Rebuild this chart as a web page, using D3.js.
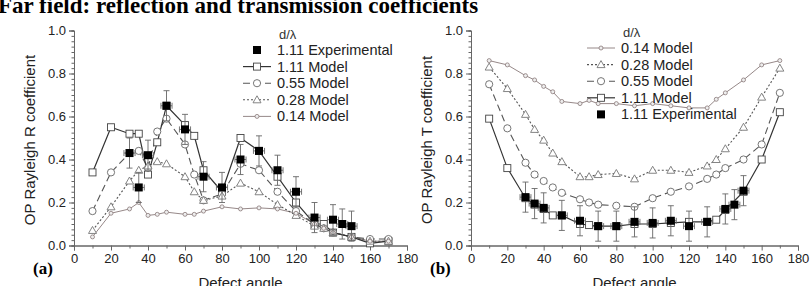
<!DOCTYPE html>
<html>
<head>
<meta charset="utf-8">
<script src="https://cdn.jsdelivr.net/npm/d3@7"></script>
<style>
body { margin: 0; background: #fff; }
svg { display: block; }
</style>
</head>
<body>
<div id="chart"></div>
<script>
// angles of the model curves (degrees)
var modelAngles = [10, 20, 30, 35, 40, 45, 50, 60, 65, 70, 80, 90, 100, 110, 120, 130, 135, 140, 150, 160, 170];
var expAngles = [30, 35, 40, 50, 60, 70, 80, 90, 100, 110, 120, 130, 140, 145, 150];

// (a) reflection
var R111 = [0.34, 0.55, 0.52, 0.52, 0.33, 0.48, 0.65, 0.56, 0.51, 0.35, 0.25, 0.50, 0.44, 0.32, 0.20, 0.10, 0.10, 0.06, 0.04, 0.01, 0.02];
var R055 = [0.16, 0.34, 0.43, 0.44, 0.36, 0.53, 0.59, 0.47, 0.33, 0.21, 0.24, 0.38, 0.35, 0.25, 0.16, 0.10, 0.08, 0.06, 0.04, 0.03, 0.03];
var R028 = [0.07, 0.18, 0.30, 0.35, 0.37, 0.39, 0.38, 0.32, 0.25, 0.21, 0.23, 0.29, 0.25, 0.19, 0.14, 0.09, 0.08, 0.06, 0.04, 0.02, 0.02];
var R014 = [0.04, 0.15, 0.17, 0.20, 0.14, 0.145, 0.155, 0.145, 0.145, 0.16, 0.18, 0.17, 0.175, 0.17, 0.15, 0.10, 0.08, 0.06, 0.04, 0.02, 0.02];
var Rexp = [0.43, 0.27, 0.42, 0.65, 0.54, 0.32, 0.27, 0.40, 0.44, 0.35, 0.25, 0.13, 0.12, 0.10, 0.09];
var RexpErr = [0.07, 0.07, 0.07, 0.07, 0.07, 0.07, 0.07, 0.07, 0.07, 0.07, 0.07, 0.07, 0.07, 0.07, 0.07];

// (b) transmission
var T014 = [0.86, 0.84, 0.79, 0.77, 0.74, 0.715, 0.67, 0.66, 0.675, 0.66, 0.66, 0.65, 0.66, 0.65, 0.64, 0.64, 0.68, 0.71, 0.77, 0.84, 0.86];
var T028 = [0.83, 0.73, 0.61, 0.54, 0.49, 0.43, 0.39, 0.32, 0.32, 0.33, 0.335, 0.31, 0.35, 0.35, 0.34, 0.37, 0.40, 0.45, 0.55, 0.69, 0.825];
var T055 = [0.75, 0.545, 0.385, 0.33, 0.30, 0.27, 0.245, 0.215, 0.20, 0.19, 0.185, 0.18, 0.22, 0.25, 0.275, 0.31, 0.33, 0.36, 0.40, 0.47, 0.71];
var T111 = [0.59, 0.36, 0.22, 0.19, 0.17, 0.14, 0.14, 0.10, 0.095, 0.09, 0.09, 0.10, 0.10, 0.105, 0.11, 0.11, 0.12, 0.165, 0.25, 0.40, 0.62];
var Texp = [0.225, 0.195, 0.175, 0.14, 0.115, 0.09, 0.09, 0.11, 0.105, 0.115, 0.09, 0.11, 0.17, 0.19, 0.255];
var TexpErr = [0.07, 0.07, 0.07, 0.07, 0.07, 0.07, 0.07, 0.07, 0.07, 0.07, 0.07, 0.07, 0.07, 0.07, 0.07];
var angleErr = 3;

var xTicks = [0, 20, 40, 60, 80, 100, 120, 140, 160, 180];
var yTicks = [0.0, 0.2, 0.4, 0.6, 0.8, 1.0];

var width = 811, height = 286;
var font = "'Liberation Sans', Arial, sans-serif";

var svg = d3.select('#chart').append('svg')
	.attr('width', width)
	.attr('height', height);

svg.append('text')
	.attr('x', -2).attr('y', 13)
	.style('font-family', "'Liberation Serif', 'Times New Roman', serif")
	.style('font-weight', 'bold')
	.style('font-size', '23px')
	.text('Far field: reflection and transmission coefficients');

// styles for each series
var styles = {
	m111: {stroke: '#333', dash: null, width: 1.2, marker: 'square', fill: '#fff', mstroke: '#444'},
	m055: {stroke: '#555', dash: '7,4', width: 1.1, marker: 'circle', fill: '#fff', mstroke: '#666'},
	m028: {stroke: '#555', dash: '2,2', width: 1.1, marker: 'triangle', fill: '#fff', mstroke: '#777'},
	m014: {stroke: '#8a7a7a', dash: null, width: 0.9, marker: 'dot', fill: '#eee', mstroke: '#8a7a7a'},
	exp: {marker: 'filled'}
};

function drawMarker(g, kind, x, y, st) {
	if (kind == 'square') {
		g.append('rect').attr('x', x - 3.5).attr('y', y - 3.5).attr('width', 7).attr('height', 7)
			.attr('fill', st.fill).attr('stroke', st.mstroke).attr('stroke-width', 0.9);
	} else if (kind == 'circle') {
		g.append('circle').attr('cx', x).attr('cy', y).attr('r', 3.6)
			.attr('fill', st.fill).attr('stroke', st.mstroke).attr('stroke-width', 0.9);
	} else if (kind == 'triangle') {
		g.append('path').attr('d', 'M' + x + ',' + (y - 4) + 'L' + (x + 4) + ',' + (y + 3) + 'L' + (x - 4) + ',' + (y + 3) + 'Z')
			.attr('fill', st.fill).attr('stroke', st.mstroke).attr('stroke-width', 0.9);
	} else if (kind == 'dot') {
		g.append('circle').attr('cx', x).attr('cy', y).attr('r', 2)
			.attr('fill', st.fill).attr('stroke', st.mstroke).attr('stroke-width', 0.8);
	} else if (kind == 'filled') {
		g.append('rect').attr('x', x - 4).attr('y', y - 4).attr('width', 8).attr('height', 8)
			.attr('fill', '#000');
	}
}

function panel(opts) {
	var x = d3.scaleLinear().domain([0, 180]).range([opts.x0, opts.x1]);
	var y = d3.scaleLinear().domain([0, 1]).range([245.5, 30.5]);
	var g = svg.append('g');

	// axes
	var xAxis = d3.axisBottom(x).tickValues(xTicks).tickSize(5).tickFormat(d3.format('d'));
	var xMinor = d3.axisBottom(x).tickValues(d3.range(10, 180, 20)).tickSize(3).tickFormat('');
	var yAxis = d3.axisLeft(y).tickValues(yTicks).tickSize(5).tickFormat(d3.format('.1f'));
	var yMinor = d3.axisLeft(y).tickValues(d3.range(0, 1.001, 0.025)).tickSize(2.5).tickFormat('');

	[xMinor, xAxis].forEach(function(ax) {
		g.append('g').attr('transform', 'translate(0,' + y(0) + ')').call(ax);
	});
	[yMinor, yAxis].forEach(function(ax) {
		g.append('g').attr('transform', 'translate(' + x(0) + ',0)').call(ax);
	});
	g.selectAll('.domain').attr('stroke', '#666');
	g.selectAll('.tick line').attr('stroke', '#666');
	g.selectAll('.tick text')
		.style('font-family', font).style('font-size', '13px').attr('fill', '#222');

	g.append('text')
		.attr('x', (opts.x0 + opts.x1) / 2).attr('y', 288)
		.attr('text-anchor', 'middle')
		.style('font-family', font).style('font-size', '15px').attr('fill', '#222')
		.text('Defect angle');
	g.append('text')
		.attr('transform', 'translate(' + (opts.x0 - 39) + ',' + 140 + ') rotate(-90)')
		.attr('text-anchor', 'middle')
		.style('font-family', font).style('font-size', '15px').attr('fill', '#222')
		.text(opts.ylabel);
	g.append('text')
		.attr('x', opts.x0 - 41).attr('y', 274)
		.style('font-family', "'Liberation Serif', 'Times New Roman', serif")
		.style('font-weight', 'bold').style('font-size', '17px')
		.text(opts.tag);

	var line = d3.line()
		.x(function(d) { return x(d[0]); })
		.y(function(d) { return y(d[1]); });

	// model curves
	opts.series.forEach(function(s) {
		var st = styles[s.key];
		var pts = modelAngles.map(function(a, i) { return [a, s.values[i]]; });
		g.append('path').datum(pts)
			.attr('d', line).attr('fill', 'none')
			.attr('stroke', st.stroke).attr('stroke-width', st.width)
			.attr('stroke-dasharray', st.dash);
	});
	opts.series.slice().reverse().forEach(function(s) {
		var st = styles[s.key];
		modelAngles.forEach(function(a, i) {
			drawMarker(g, st.marker, x(a), y(s.values[i]), st);
		});
	});

	// experiment with error bars
	var eg = g.append('g').attr('stroke', '#666').attr('stroke-width', 0.9);
	expAngles.forEach(function(a, i) {
		var v = opts.exp[i], e = opts.err[i];
		var cx = x(a), cy = y(v);
		eg.append('line').attr('x1', cx).attr('x2', cx).attr('y1', y(v - e)).attr('y2', y(v + e));
		eg.append('line').attr('x1', cx - 3).attr('x2', cx + 3).attr('y1', y(v - e)).attr('y2', y(v - e));
		eg.append('line').attr('x1', cx - 3).attr('x2', cx + 3).attr('y1', y(v + e)).attr('y2', y(v + e));
		eg.append('line').attr('x1', x(a - angleErr)).attr('x2', x(a + angleErr)).attr('y1', cy).attr('y2', cy);
		eg.append('line').attr('x1', x(a - angleErr)).attr('x2', x(a - angleErr)).attr('y1', cy - 3).attr('y2', cy + 3);
		eg.append('line').attr('x1', x(a + angleErr)).attr('x2', x(a + angleErr)).attr('y1', cy - 3).attr('y2', cy + 3);
	});
	expAngles.forEach(function(a, i) {
		drawMarker(g, 'filled', x(a), y(opts.exp[i]), {});
	});

	// legend
	var lg = g.append('g');
	lg.append('text')
		.attr('x', opts.lx + 2).attr('y', opts.ly - 11)
		.style('font-family', font).style('font-size', '13px').attr('fill', '#333')
		.text('d/λ');
	opts.legend.forEach(function(item, i) {
		var ry = opts.ly + i * 16.6;
		var st = styles[item.key];
		if (item.key != 'exp') {
			lg.append('line')
				.attr('x1', opts.lx - 34).attr('x2', opts.lx - 6).attr('y1', ry).attr('y2', ry)
				.attr('stroke', st.stroke).attr('stroke-width', st.width).attr('stroke-dasharray', st.dash);
		}
		drawMarker(lg, st.marker, opts.lx - 20, ry, st);
		lg.append('text')
			.attr('x', opts.lx).attr('y', ry + 5)
			.style('font-family', font).style('font-size', '14.5px').attr('fill', '#222')
			.text(item.label);
	});
}

panel({
	x0: 74, x1: 407, ylabel: 'OP Rayleigh R coefficient', tag: '(a)',
	series: [{key: 'm014', values: R014}, {key: 'm028', values: R028}, {key: 'm055', values: R055}, {key: 'm111', values: R111}],
	exp: Rexp, err: RexpErr,
	lx: 277, ly: 50,
	legend: [
		{key: 'exp', label: '1.11 Experimental'},
		{key: 'm111', label: '1.11 Model'},
		{key: 'm055', label: '0.55 Model'},
		{key: 'm028', label: '0.28 Model'},
		{key: 'm014', label: '0.14 Model'}
	]
});

panel({
	x0: 471, x1: 798, ylabel: 'OP Rayleigh T coefficient', tag: '(b)',
	series: [{key: 'm014', values: T014}, {key: 'm028', values: T028}, {key: 'm055', values: T055}, {key: 'm111', values: T111}],
	exp: Texp, err: TexpErr,
	lx: 621, ly: 48,
	legend: [
		{key: 'm014', label: '0.14 Model'},
		{key: 'm028', label: '0.28 Model'},
		{key: 'm055', label: '0.55 Model'},
		{key: 'm111', label: '1.11 Model'},
		{key: 'exp', label: '1.11 Experimental'}
	]
});
</script>
</body>
</html>
